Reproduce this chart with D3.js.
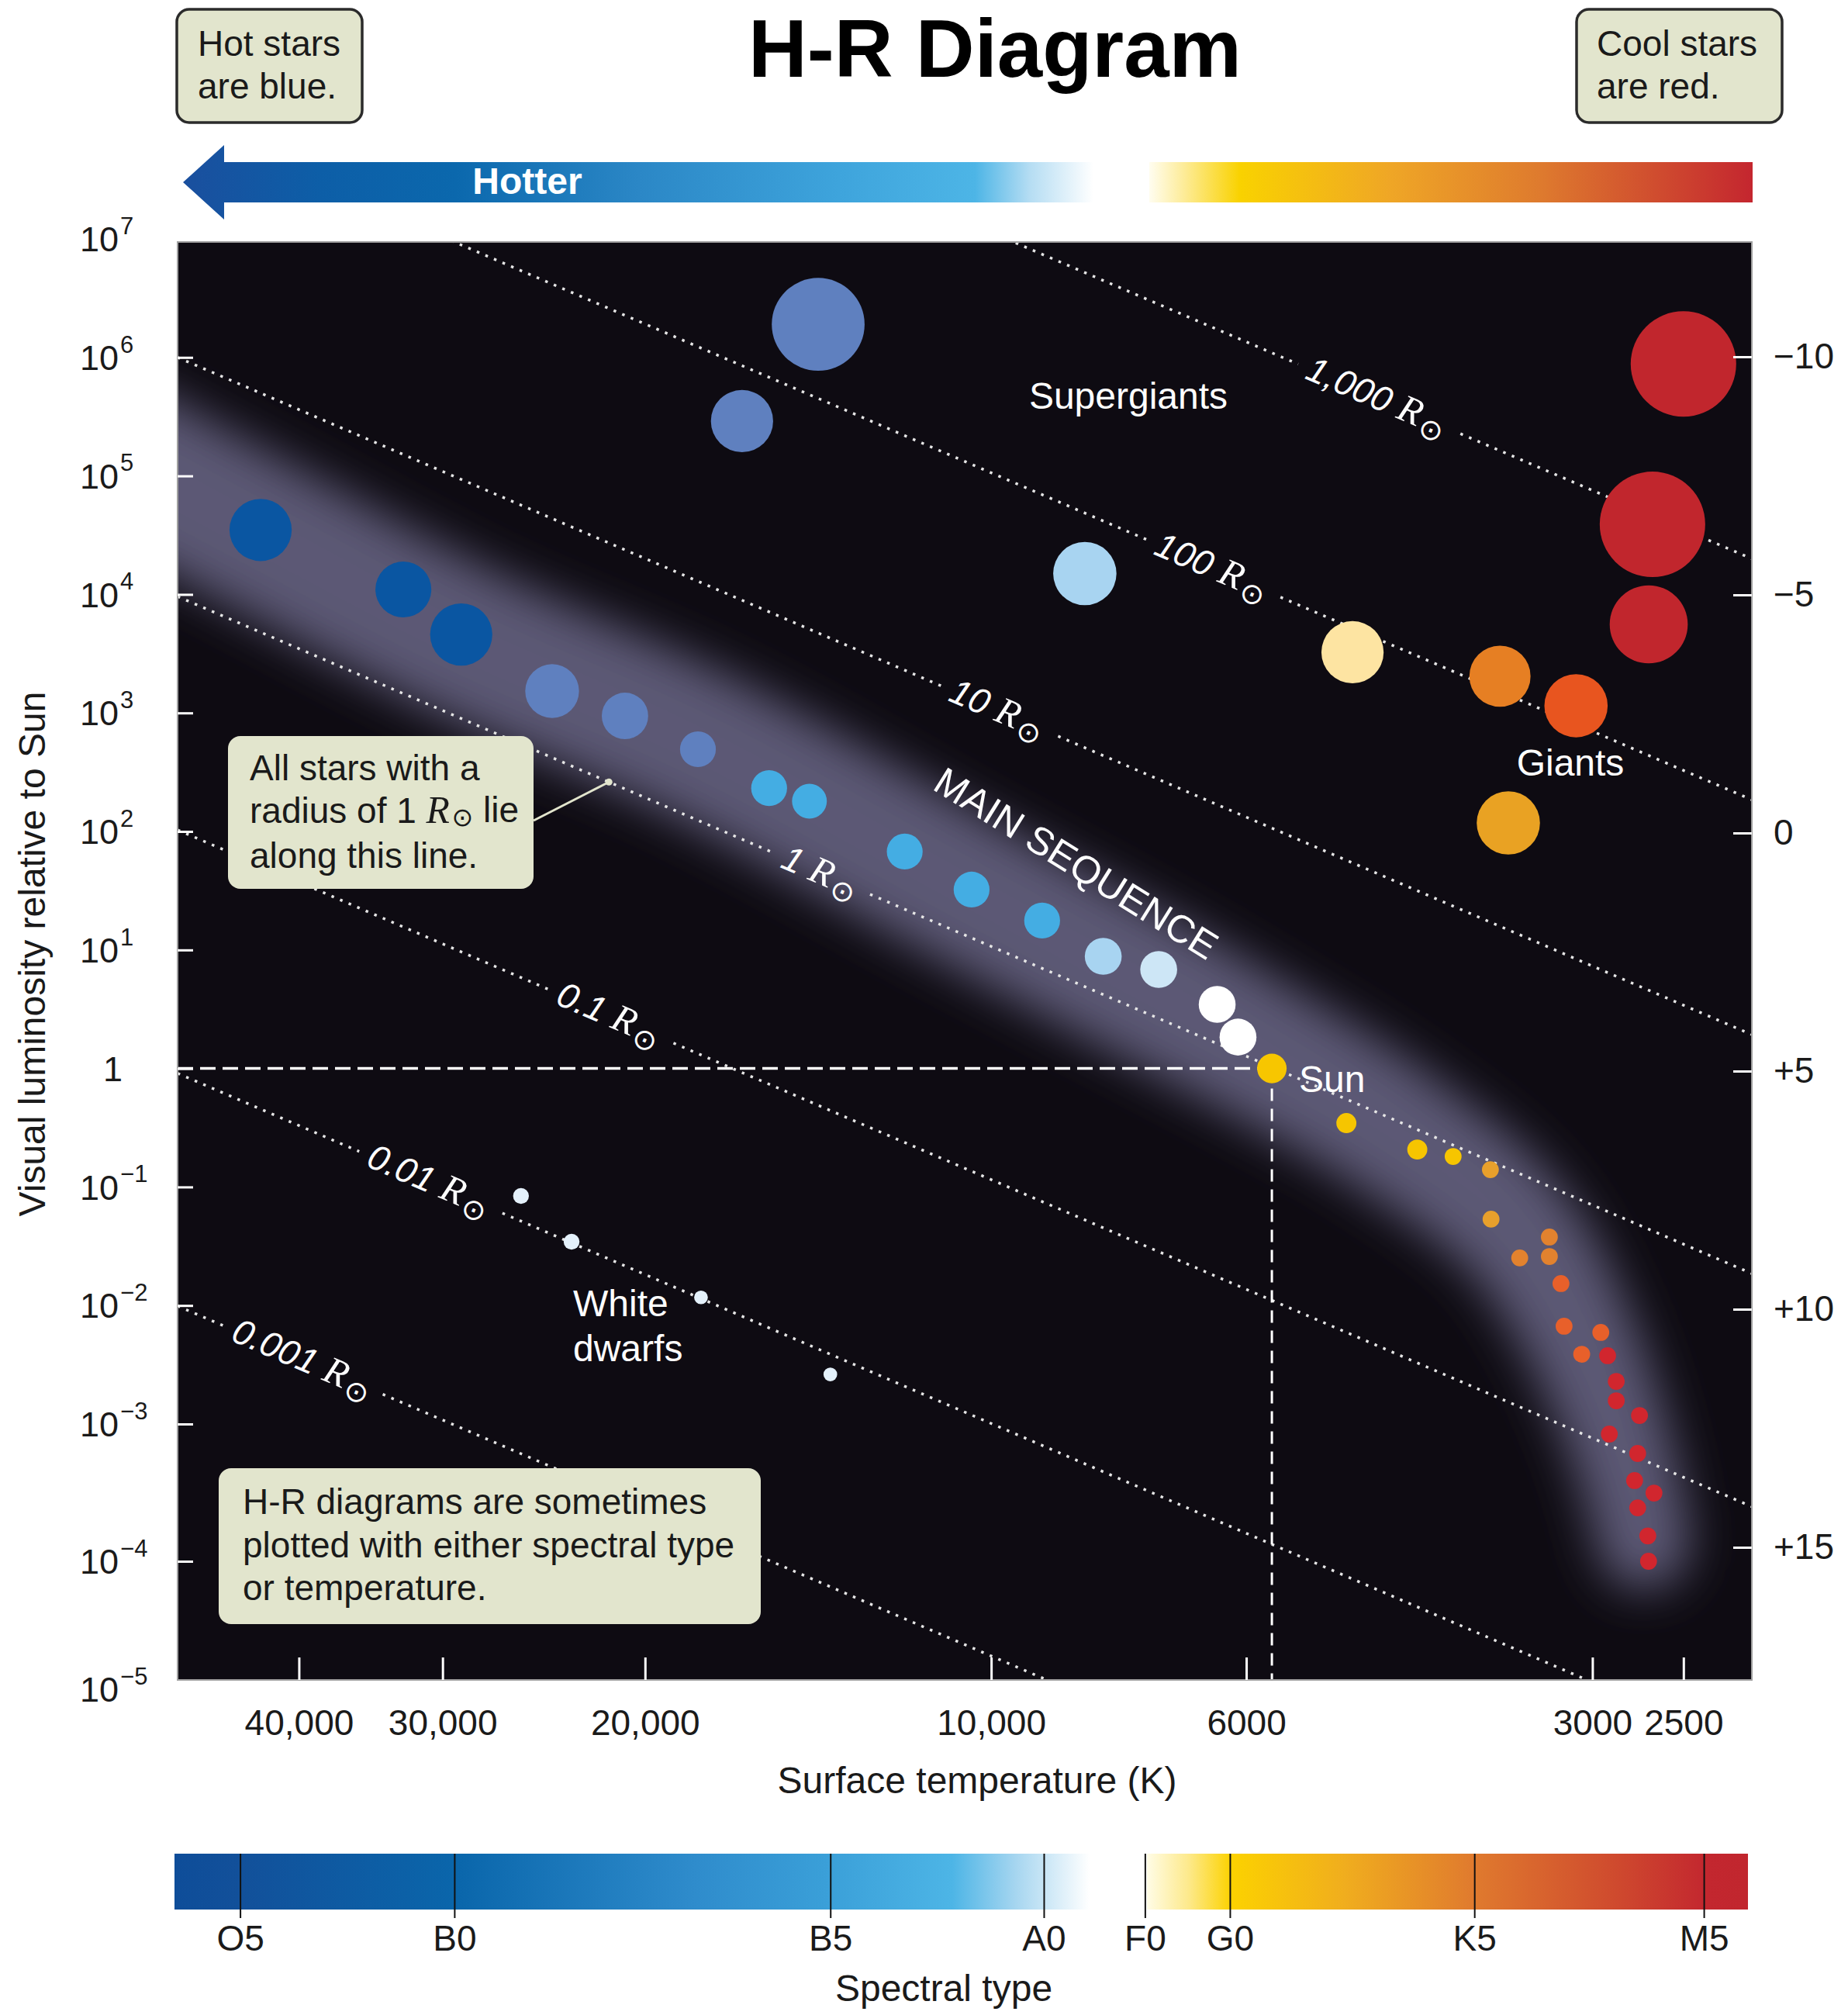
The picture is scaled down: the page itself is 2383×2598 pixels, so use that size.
<!DOCTYPE html>
<html>
<head>
<meta charset="utf-8">
<script src="https://cdn.jsdelivr.net/npm/d3@7"></script>
<style>
body{margin:0;background:#fff;}
svg text{font-family:"Liberation Sans", Arial, Helvetica, sans-serif;}
</style>
</head>
<body>
<div id="wrapper"></div>
<script>
// ---- Data ----
const tempTicks = [40000, 30000, 20000, 10000, 6000, 3000, 2500];
const lumTicks = [1e6, 1e5, 1e4, 1e3, 1e2, 1e1, 1, 1e-1, 1e-2, 1e-3, 1e-4];
const lumExponents = [7, 6, 5, 4, 3, 2, 1, 0, -1, -2, -3, -4, -5];
const magTicks = [-10, -5, 0, 5, 10, 15];
const spectralTypes = ["O5", "B0", "B5", "A0", "F0", "G0", "K5", "M5"];
const spectralTemps = [45000, 29300, 13800, 9000, 7350, 6200, 3800, 2400];

// supergiants and giants
const giantTemp = [14140, 16470, 8290, 4850, 3610, 3100, 3550, 2500, 2660, 2680];
const giantLum = [1.9e6, 2.9e5, 1.5e4, 3250, 2040, 1150, 118, 8.8e5, 3.9e4, 5590];
const giantSize = [88, 59, 60, 59, 58, 60, 60, 100, 100, 74];
const giantClass = ["slate", "slate", "paleBlue", "cream", "giantOrange", "giantFlame", "gold", "giantRed", "giantRed", "giantRed"];

// main sequence
const msTemp = [43190, 32450, 28900, 24090, 20820, 17990, 15600, 14390, 11890, 10400, 9030, 7990, 7150, 6360, 6100,
  5700, 4910, 4260, 3965, 3680, 3675, 3270, 3470, 3270, 3195, 3175, 2950, 3065, 2910, 2860, 2860, 2730, 2900, 2740,
  2757, 2652, 2740, 2685, 2681];
const msLum = [3.5e4, 1.1e4, 4590, 1530, 944, 494, 232, 180, 67.6, 32.3, 17.7, 8.83, 6.84, 3.47, 1.84,
  1.0, 0.346, 0.207, 0.181, 0.140, 0.0535, 0.0378, 0.0252, 0.0259, 0.0153, 0.00668, 0.00592, 0.00388, 0.00377,
  0.00229, 0.00157, 0.00118, 8.45e-4, 6.1e-4, 3.87e-4, 3.14e-4, 2.45e-4, 1.53e-4, 1.0e-4];
const msSize = [59, 53, 59, 51, 44, 34, 34, 33, 34, 34, 34, 35, 35, 35, 35,
  28, 19, 19, 16, 16, 16, 16, 16, 16, 16, 16, 16, 16, 16, 16, 16, 16, 16, 16, 16, 16, 16, 16, 16];
const msClass = ["deepBlue", "deepBlue", "deepBlue", "slate", "slate", "slate", "sky", "sky", "sky", "sky", "sky",
  "paleBlue", "iceBlue", "white", "white", "sun", "yellow", "yellow", "yellow", "amber", "amber", "orange", "orange",
  "orange", "flame", "flame", "flame", "flame", "red", "red", "red", "red", "red", "red", "red", "red", "red", "red", "red"];

// white dwarfs
const wdTemp = [25640, 23170, 17880, 13800];
const wdLum = [0.084, 0.0345, 0.0117, 0.00262];
const wdSize = [15, 15, 13, 13];

// main sequence glow band (centre line)
const bandTemp = [57670, 43190, 28670, 17990, 10440, 6067, 4447, 3524, 3088, 2813, 2706];
const bandLum = [1.43e5, 3.16e4, 3950, 541, 30.9, 1.76, 0.289, 0.0473, 0.00574, 5.6e-4, 1.35e-4];

// lines of constant radius: luminosity at the two ends of the temperature range
const radiusLabels = ["1,000", "100", "10", "1", "0.1", "0.01", "0.001"];
const radiusStartLum = [1.0e10, 9.5e7, 1.0e6, 9.6e3, 103, 0.91, 0.0099];
const radiusEndLum = [2.0e4, 185, 1.93, 0.0186, 2.5e-4, 3.3e-6, 5.05e-8];
const radiusLabelTemp = [4620, 6430, 9880, 14080, 21500, 30840, 39720];

const sunTemp = 5700, sunLum = 1;
const leaderTemp = 21500;

// ---- Styles ----
const starClasses = ["deepBlue", "slate", "sky", "paleBlue", "iceBlue", "white", "sun", "yellow", "amber", "orange",
  "flame", "red", "cream", "gold", "giantOrange", "giantFlame", "giantRed"];
const starColors = ["#0a56a2", "#5f80bf", "#44ade3", "#a8d4f1", "#cde6f6", "#ffffff", "#f7c600", "#f6c500", "#e8a02c",
  "#e2822e", "#e8602a", "#d1262e", "#fde4a2", "#e9a223", "#e67f23", "#e8551f", "#c1262d"];
const labelFont = 46;

const W = 2383, H = 2598;
const plot = {left: 229, right: 2259, top: 312, bottom: 2166};

const svg = d3.select("#wrapper").append("svg").attr("width", W).attr("height", H);
const defs = svg.append("defs");

// Scales
const xScale = d3.scaleLog().domain([51000, 2180]).range([plot.left, plot.right]);
const yScale = d3.scaleLog().domain([1e7, 1e-3, 1e-4, 1e-5]).range([308, 1836, 2013, 2178]);
const magScale = d3.scaleLinear().domain([-10, 15]).range([460, 1995]);
const sizeScale = d3.scaleLinear().domain([0, 100]).range([0, 68]);
const colorScale = d3.scaleOrdinal().domain(starClasses).range(starColors);

// Gradients
function gradient(id, x1, x2, stops) {
  const g = defs.append("linearGradient").attr("id", id).attr("gradientUnits", "userSpaceOnUse")
    .attr("x1", x1).attr("x2", x2).attr("y1", 0).attr("y2", 0);
  stops.forEach(s => g.append("stop").attr("offset", s[0]).attr("stop-color", s[1]));
}
gradient("blueTop", 236, 1410, [[0, "#1a4f9e"], [0.15, "#0d5ea7"], [0.3, "#0b68ad"], [0.5, "#2b87c6"], [0.72, "#3ea4dc"],
  [0.87, "#4db5e6"], [0.93, "#b5ddf3"], [1, "#ffffff"]]);
gradient("warmTop", 1482, 2260, [[0, "#fffdf0"], [0.06, "#fdeb94"], [0.15, "#f9d200"], [0.4, "#efa626"],
  [0.65, "#de7a2e"], [0.85, "#cf4a2f"], [1, "#c4262f"]]);
gradient("blueBot", 225, 1405, [[0, "#0e4d99"], [0.07, "#12509a"], [0.31, "#0a66ab"], [0.57, "#2f8ccc"],
  [0.71, "#3a9fd8"], [0.85, "#4db5e6"], [0.92, "#a7d6f0"], [1, "#ffffff"]]);
gradient("warmBot", 1479, 2254, [[0, "#fffce6"], [0.07, "#fde98a"], [0.14, "#fcd200"], [0.33, "#f0ad1e"],
  [0.54, "#e07b2e"], [0.78, "#cf4a2e"], [0.93, "#c3272f"], [1, "#c1262e"]]);

defs.append("clipPath").attr("id", "plotClip").append("rect")
  .attr("x", plot.left).attr("y", plot.top).attr("width", plot.right - plot.left).attr("height", plot.bottom - plot.top);
defs.append("filter").attr("id", "glow").attr("filterUnits", "userSpaceOnUse")
  .attr("x", 0).attr("y", 0).attr("width", W).attr("height", H)
  .append("feGaussianBlur").attr("stdDeviation", 30);
const mask = defs.append("mask").attr("id", "lineMask").attr("maskUnits", "userSpaceOnUse")
  .attr("x", 0).attr("y", 0).attr("width", W).attr("height", H);
mask.append("rect").attr("width", W).attr("height", H).attr("fill", "#fff");

// ---- Title and corner boxes ----
svg.append("text").attr("x", 1283).attr("y", 99).attr("text-anchor", "middle")
  .attr("font-size", 105).attr("font-weight", "bold").attr("fill", "#000").text("H-R Diagram");

function noteBox(x, y, w, h, lines, tx, ty, stroke) {
  svg.append("rect").attr("x", x).attr("y", y).attr("width", w).attr("height", h).attr("rx", 16)
    .attr("fill", "#e2e5cd").attr("stroke", stroke ? "#2b2b2b" : "none").attr("stroke-width", 3.5);
  const t = svg.append("text").attr("font-size", labelFont).attr("fill", "#1a1a1a");
  lines.forEach((l, i) => t.append("tspan").attr("x", tx).attr("y", ty[i]).text(l));
  return t;
}
noteBox(228, 12, 239, 146, ["Hot stars", "are blue."], 255, [72, 127], true);
noteBox(2033, 12, 265, 146, ["Cool stars", "are red."], 2059, [72, 127], true);

// ---- Hotter arrow bar ----
svg.append("path").attr("d", "M236,235 L289,187 L289,209 L1410,209 L1410,261 L289,261 L289,283 Z")
  .attr("fill", "url(#blueTop)");
svg.append("rect").attr("x", 1482).attr("y", 209).attr("width", 2260 - 1482).attr("height", 52).attr("fill", "url(#warmTop)");
svg.append("text").attr("x", 680).attr("y", 250).attr("text-anchor", "middle").attr("font-size", 48)
  .attr("font-weight", "bold").attr("fill", "#fff").text("Hotter");

// ---- Plot background ----
svg.append("rect").attr("x", plot.left).attr("y", plot.top).attr("width", plot.right - plot.left)
  .attr("height", plot.bottom - plot.top).attr("fill", "#0e0b12");

const inner = svg.append("g").attr("clip-path", "url(#plotClip)");

// main sequence glow: sample the smooth centre line and taper the band towards the red dwarfs
const bandLine = d3.line().x(d => xScale(d[0])).y(d => yScale(d[1])).curve(d3.curveCatmullRom);
const guide = inner.append("path").datum(bandTemp.map((t, i) => [t, bandLum[i]]))
  .attr("d", bandLine).attr("fill", "none");
const guideLen = guide.node().getTotalLength();
const widthAlong = d3.scaleLinear().domain([0, 0.6, 0.8, 1]).range([200, 190, 165, 120]);
const nSteps = 90;
const samples = d3.range(nSteps + 1).map(k => {
  const p = guide.node().getPointAtLength(guideLen * k / nSteps);
  return {x: p.x, y: p.y, w: widthAlong(k / nSteps)};
});
guide.remove();
const band = inner.append("g").attr("filter", "url(#glow)");
band.selectAll("line").data(samples.slice(1)).join("line")
  .attr("x1", (d, i) => samples[i].x).attr("y1", (d, i) => samples[i].y)
  .attr("x2", d => d.x).attr("y2", d => d.y)
  .attr("stroke", "#5c5874").attr("stroke-width", d => d.w).attr("stroke-linecap", "round");

// lines of constant radius
const [tLeft, tRight] = xScale.domain();
const radiusData = radiusLabels.map((lab, i) => {
  const x0 = xScale(tLeft), y0 = yScale(radiusStartLum[i]), x1 = xScale(tRight), y1 = yScale(radiusEndLum[i]);
  const lx = xScale(radiusLabelTemp[i]);
  return {lab, x0, y0, x1, y1, lx, ly: y0 + (lx - x0) * (y1 - y0) / (x1 - x0),
    angle: Math.atan2(y1 - y0, x1 - x0) * 180 / Math.PI};
});
inner.append("g").attr("mask", "url(#lineMask)").selectAll("line").data(radiusData).join("line")
  .attr("x1", d => d.x0).attr("y1", d => d.y0).attr("x2", d => d.x1).attr("y2", d => d.y1)
  .attr("stroke", "#e6e6e6").attr("stroke-width", 3.5).attr("stroke-dasharray", "3.5 8.5");

function solarR(sel, symSize, symDy) {
  sel.append("tspan").attr("font-family", "'Liberation Serif', 'Times New Roman', serif").attr("font-style", "italic")
    .attr("font-size", "1.08em").text("R");
  sel.append("tspan").attr("font-family", "'DejaVu Sans', sans-serif").attr("font-size", symSize || "0.82em")
    .attr("dx", "0.08em").attr("dy", symDy || "0.25em").text("\u2299");
}
const lblGroups = inner.selectAll("g.rlabel").data(radiusData).join("g").attr("class", "rlabel")
  .attr("transform", d => `translate(${d.lx},${d.ly}) rotate(${d.angle})`);
lblGroups.append("text").attr("text-anchor", "middle").attr("dy", "0.3em").attr("font-size", labelFont)
  .attr("fill", "#fff").each(function (d) {
    const t = d3.select(this);
    t.append("tspan").attr("font-style", "italic").text(d.lab + " ");
    solarR(t);
  });
lblGroups.each(function (d) {
  const b = d3.select(this).select("text").node().getBBox();
  mask.append("rect").attr("transform", `translate(${d.lx},${d.ly}) rotate(${d.angle})`)
    .attr("x", b.x - 14).attr("y", b.y).attr("width", b.width + 28).attr("height", b.height).attr("fill", "#000");
});

// Sun reference lines
inner.append("line").attr("x1", plot.left).attr("x2", xScale(sunTemp)).attr("y1", yScale(sunLum)).attr("y2", yScale(sunLum))
  .attr("stroke", "#fff").attr("stroke-width", 3.5).attr("stroke-dasharray", "20 9");
inner.append("line").attr("x1", xScale(sunTemp)).attr("x2", xScale(sunTemp)).attr("y1", yScale(sunLum)).attr("y2", plot.bottom)
  .attr("stroke", "#fff").attr("stroke-width", 3).attr("stroke-dasharray", "16 10");

// stars
function stars(temp, lum, size, cls) {
  inner.append("g").selectAll("circle").data(temp.map((t, i) => ({t, l: lum[i], s: size[i], c: cls[i]})))
    .join("circle").attr("cx", d => xScale(d.t)).attr("cy", d => yScale(d.l)).attr("r", d => sizeScale(d.s))
    .attr("fill", d => colorScale(d.c));
}
stars(giantTemp, giantLum, giantSize, giantClass);
stars(msTemp, msLum, msSize, msClass);
inner.append("g").selectAll("circle").data(wdTemp.map((t, i) => ({t, l: wdLum[i], s: wdSize[i]})))
  .join("circle").attr("cx", d => xScale(d.t)).attr("cy", d => yScale(d.l)).attr("r", d => sizeScale(d.s))
  .attr("fill", "#e4f1fb");

// region labels
const white = (x, y, txt, anchor) => inner.append("text").attr("x", x).attr("y", y).attr("text-anchor", anchor || "start")
  .attr("font-size", 48).attr("fill", "#fff").text(txt);
white(1455, 527, "Supergiants", "middle");
white(2025, 1000, "Giants", "middle");
white(1675, 1408, "Sun");
white(739, 1697, "White");
white(739, 1755, "dwarfs");
inner.append("text").attr("transform", "translate(1388,1113) rotate(32)").attr("text-anchor", "middle")
  .attr("dy", "0.35em").attr("font-size", 50).attr("fill", "#fff").text("MAIN SEQUENCE");

// callouts
const lx = xScale(leaderTemp), r1 = radiusData[3];
const ly = r1.y0 + (lx - r1.x0) * (r1.y1 - r1.y0) / (r1.x1 - r1.x0);
inner.append("line").attr("x1", 688).attr("y1", 1058).attr("x2", lx).attr("y2", ly)
  .attr("stroke", "#e2e5cd").attr("stroke-width", 3);
inner.append("circle").attr("cx", lx).attr("cy", ly).attr("r", 4.5).attr("fill", "#e2e5cd");

const c1 = noteBox(294, 949, 394, 197, [], 0, [], false);
c1.append("tspan").attr("x", 322).attr("y", 1006).text("All stars with a");
c1.append("tspan").attr("x", 322).attr("y", 1061).text("radius of 1 ");
solarR(c1, "0.72em", "0.12em");
c1.append("tspan").attr("dy", "-0.1em").text(" lie");
c1.append("tspan").attr("x", 322).attr("y", 1119).text("along this line.");

noteBox(282, 1893, 699, 201, ["H-R diagrams are sometimes", "plotted with either spectral type", "or temperature."],
  313, [1952, 2008, 2063], false);

// plot frame
svg.append("rect").attr("x", plot.left).attr("y", plot.top).attr("width", plot.right - plot.left)
  .attr("height", plot.bottom - plot.top).attr("fill", "none").attr("stroke", "#a0a0a0").attr("stroke-width", 2);

// ---- Axes ----
const yAxis = svg.append("g").attr("transform", `translate(${plot.left},0)`)
  .call(d3.axisLeft(yScale).tickValues(lumTicks).tickSize(-20).tickFormat(""));
const xAxis = svg.append("g").attr("transform", `translate(0,${plot.bottom})`)
  .call(d3.axisBottom(xScale).tickValues(tempTicks).tickSize(-29).tickPadding(38)
    .tickFormat(d => d >= 10000 ? d3.format(",")(d) : String(d)));
const magAxis = svg.append("g").attr("transform", `translate(${plot.right},0)`)
  .call(d3.axisRight(magScale).tickValues(magTicks).tickSize(-24).tickPadding(28)
    .tickFormat(d => d < 0 ? "\u2212" + Math.abs(d) : d > 0 ? "+" + d : "0"));
[yAxis, xAxis, magAxis].forEach(a => {
  a.select(".domain").remove();
  a.selectAll(".tick line").attr("stroke", "#fff").attr("stroke-width", 3);
  a.selectAll("text").attr("font-size", labelFont).attr("fill", "#1a1a1a")
    .attr("font-family", "'Liberation Sans', Arial, sans-serif");
});

// luminosity labels with superscripts
const yl = svg.append("g").selectAll("text").data(lumExponents).join("text")
  .attr("x", e => e === 0 ? 133 : 103).attr("y", e => yScale(Math.pow(10, e))).attr("dy", "0.36em")
  .attr("font-size", 45).attr("fill", "#1a1a1a");
yl.each(function (e) {
  const t = d3.select(this);
  if (e === 0) { t.text("1"); return; }
  t.append("tspan").text("10");
  t.append("tspan").attr("font-size", 31).attr("dy", "-0.72em").attr("dx", 2).text(e < 0 ? "\u2212" + Math.abs(e) : e);
});

// axis titles
svg.append("text").attr("transform", "translate(58,1230) rotate(-90)").attr("text-anchor", "middle")
  .attr("font-size", 48).attr("fill", "#1a1a1a").text("Visual luminosity relative to Sun");
svg.append("text").attr("x", 1260).attr("y", 2312).attr("text-anchor", "middle").attr("font-size", 48)
  .attr("fill", "#1a1a1a").text("Surface temperature (K)");

// ---- Spectral type bar ----
svg.append("rect").attr("x", 225).attr("y", 2390).attr("width", 1405 - 225).attr("height", 72).attr("fill", "url(#blueBot)");
svg.append("rect").attr("x", 1479).attr("y", 2390).attr("width", 2254 - 1479).attr("height", 72).attr("fill", "url(#warmBot)");
const specAxis = svg.append("g").attr("transform", "translate(0,2390)")
  .call(d3.axisBottom(xScale).tickValues(spectralTemps).tickSize(83).tickPadding(9)
    .tickFormat((d, i) => spectralTypes[i]));
specAxis.select(".domain").remove();
specAxis.selectAll(".tick line").attr("stroke", "#111").attr("stroke-width", 2);
specAxis.selectAll("text").attr("font-size", labelFont).attr("fill", "#1a1a1a")
  .attr("font-family", "'Liberation Sans', Arial, sans-serif");
svg.append("text").attr("x", 1217).attr("y", 2580).attr("text-anchor", "middle").attr("font-size", 48)
  .attr("fill", "#1a1a1a").text("Spectral type");
</script>
</body>
</html>
